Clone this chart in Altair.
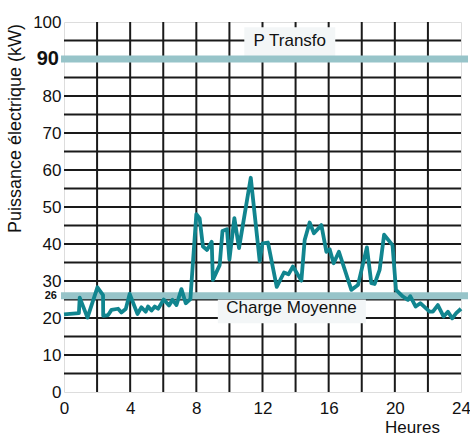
import altair as alt
import pandas as pd

# ---- data ----
hours = [0.0, 0.9, 0.95, 1.42, 2.02, 2.36, 2.37, 2.67, 2.87, 3.27, 3.47, 3.73, 3.97,
         4.44, 4.68, 4.94, 5.08, 5.29, 5.49, 5.69, 6.03, 6.35, 6.56, 6.80, 7.10,
         7.36, 7.64, 8.0, 8.2, 8.4, 8.65, 8.93, 9.0, 9.41, 9.58, 9.85, 10.0, 10.3,
         10.58, 11.29, 11.83, 12.0, 12.33, 12.86, 13.3, 13.57, 13.84, 14.35, 14.55,
         14.85, 15.11, 15.56, 15.86, 16.06, 16.30, 16.62, 17.37, 17.77, 18.31, 18.58,
         18.78, 19.08, 19.35, 19.86, 20.07, 20.49, 20.79, 20.93, 21.26, 21.54, 22.10,
         22.30, 22.60, 22.95, 23.21, 23.47, 23.71, 24.0]
power = [21.0, 21.3, 25.5, 20.1, 28.3, 26.2, 20.6, 20.8, 22.2, 22.5, 21.5, 22.4, 26.5,
         21.1, 22.9, 21.7, 23.1, 22.0, 23.1, 22.5, 25.0, 23.4, 24.9, 23.5, 27.8,
         24.0, 25.1, 48.1, 46.9, 39.3, 38.4, 40.6, 30.3, 34.3, 43.5, 44.0, 35.8, 47.0,
         38.9, 57.9, 35.4, 40.2, 40.4, 28.4, 32.3, 31.8, 33.9, 30.1, 41.1,
         45.8, 42.9, 45.1, 37.9, 38.6, 34.8, 37.9, 27.6, 28.9, 39.1, 29.4,
         29.2, 33.0, 42.5, 39.7, 27.6, 25.8, 24.9, 25.9, 23.1, 24.0, 21.7,
         21.7, 23.5, 20.4, 21.7, 19.9, 21.3, 22.5]
ref_names = ["P Transfo", "Charge Moyenne"]
ref_values = [90, 26]
x_ticks = list(range(0, 25, 2))
y_ticks = [0, 10, 20, 30, 40, 50, 60, 70, 80, 100]
grid_x = list(range(2, 24, 2))
grid_y = list(range(5, 100, 5))

# ---- styling / layout ----
W, H = 397, 370
FONT_N = "Liberation Sans, Arial, sans-serif"
FONT = "Liberation Sans, Arial, sans-serif"
BG = "#f3f6f7"
BAND = "#97c4c9"
LINE = "#11858f"

# annotation boxes (label placement, in data units)
boxes = pd.DataFrame({
    "x0": [10.9, 9.3], "x1": [16.4, 18.25],
    "y0": [90.5, 18.6], "y1": [98.6, 25.0],
    "tx": [13.65, 13.75], "ty": [95.0, 22.7],
    "label": ref_names,
})

df = pd.DataFrame({"h": hours, "p": power})
refs = pd.DataFrame({"name": ref_names, "v": ref_values})

xs = alt.Scale(domain=[0, 24], nice=False, zero=False)
ys = alt.Scale(domain=[0, 100], nice=False)

x_axis = alt.Axis(values=x_ticks, grid=False, domain=False, ticks=False,
                  labelFont=FONT_N, labelFontSize=17, labelColor="#111",
                  labelPadding=8, labelFlush=False, labelOverlap=False,
                  title="Heures", titleFont=FONT_N, titleFontSize=17,
                  titleFontWeight="normal", titleColor="#111",
                  titleX=348, titleY=40, titleBaseline="alphabetic", titleAlign="center")
y_axis = alt.Axis(values=y_ticks, grid=False, domain=False, ticks=False,
                  labelFont=FONT_N, labelColor="#111", labelPadding=3,
                  labelOverlap=False, labelFontSize=17,
                  title="Puissance électrique (kW)", titleFont=FONT,
                  titleFontSize=18, titleFontWeight="normal", titleColor="#111",
                  titleX=-40, titleY=106, titleAlign="center", titleAngle=-90)

gy = alt.Chart(pd.DataFrame({"v": grid_y})).mark_rule(color="#1a1a1a", strokeWidth=2).encode(
    y=alt.Y("v:Q", scale=ys, axis=y_axis))
gx = alt.Chart(pd.DataFrame({"h": grid_x})).mark_rule(color="#1a1a1a", strokeWidth=2).encode(
    x=alt.X("h:Q", scale=xs, axis=x_axis))

box = alt.Chart(boxes).mark_rect(color=BG).encode(
    x=alt.X("x0:Q", scale=xs), x2="x1:Q",
    y=alt.Y("y0:Q", scale=ys), y2="y1:Q")
box_txt = alt.Chart(boxes).mark_text(font=FONT_N, fontSize=17, color="#111",
                                     align="center", baseline="middle").encode(
    x=alt.X("tx:Q", scale=xs), y=alt.Y("ty:Q", scale=ys), text="label:N")

bands = alt.Chart(refs).mark_rule(color=BAND, strokeWidth=7).encode(
    y=alt.Y("v:Q", scale=ys), x=alt.value(-3), x2=alt.value(W + 7))

# bold value labels of the two reference levels (left of the axis)
lab90 = alt.Chart(refs).transform_filter("datum.v == 90").mark_text(
    font=FONT_N, fontSize=20, fontWeight="bold", color="#111",
    align="right", baseline="middle", dx=-5).encode(
    y=alt.Y("v:Q", scale=ys), x=alt.value(0), text="v:Q")
lab26 = alt.Chart(refs).transform_filter("datum.v == 26").mark_text(
    font=FONT_N, fontSize=11, fontWeight="bold", color="#111",
    align="right", baseline="middle", dx=-7).encode(
    y=alt.Y("v:Q", scale=ys), x=alt.value(0), text="v:Q")

line = alt.Chart(df).mark_line(color=LINE, strokeWidth=3.8, strokeJoin="round").encode(
    x=alt.X("h:Q", scale=xs), y=alt.Y("p:Q", scale=ys))

chart = alt.layer(gy, gx, box, box_txt, bands, lab90, lab26, line).properties(
    width=W, height=H,
    autosize=alt.AutoSizeParams(type="none"),
    padding={"left": 64, "top": 22, "right": 9, "bottom": 46},
).configure_view(fill=BG, stroke=None).configure(background="white")

chart.save("out.html", embed_options={"renderer": "svg", "actions": False})
